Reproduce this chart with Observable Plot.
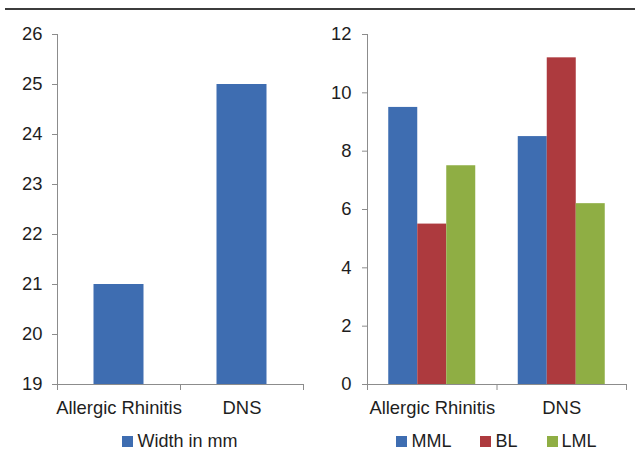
<!DOCTYPE html>
<html>
<head>
<meta charset="utf-8">
<script src="https://cdn.jsdelivr.net/npm/d3@7"></script>
<script src="https://cdn.jsdelivr.net/npm/@observablehq/plot@0.6"></script>
<style>
  html, body { margin: 0; padding: 0; background: #fff; }
  #wrap { position: relative; width: 635px; height: 452px; overflow: hidden;
          font-family: "Liberation Sans", Arial, sans-serif; color: #1e1e1e; }
  #rule { position: absolute; left: 5px; top: 8px; width: 630px; border-top: 2px solid #3c3c3c; }
  .panel { position: absolute; top: 0; }
  .legend { position: absolute; top: 430px; height: 22px; display: flex; justify-content: center;
            align-items: center; font-size: 18px; line-height: 22px; gap: 29px; }
  .item { display: flex; align-items: center; gap: 4px; }
  .sw { width: 11px; height: 11px; display: inline-block; }
</style>
</head>
<body>
<div id="wrap">
  <div id="rule"></div>
  <div id="left" class="panel" style="left:0px"></div>
  <div id="right" class="panel" style="left:315px"></div>
  <div id="legL" class="legend" style="left:57px; width:246px"></div>
  <div id="legR" class="legend" style="left:367px; width:259px"></div>
</div>
<script>
// ---- data ----
const categories = ["Allergic Rhinitis", "DNS"];
const widthMM = [21, 25];
const seriesNames = ["MML", "BL", "LML"];
const mml = [9.5, 8.5];
const bl = [5.5, 11.2];
const lml = [7.5, 6.2];
const leftTicks = [19, 20, 21, 22, 23, 24, 25, 26];
const rightTicks = [0, 2, 4, 6, 8, 10, 12];
const leftLegend = "Width in mm";

// ---- styles ----
const colors = ["#3e6db1", "#ad3a3e", "#8fae44"];
const axisColor = "#8c8c8c";
const textColor = "#1e1e1e";
const font = { fontSize: "18.4px", fontFamily: "'Liberation Sans', Arial, sans-serif", color: textColor, overflow: "visible", background: "transparent" };
const LEFT_BAR = 50 / 123;   // bar width as fraction of category slot
const RIGHT_GROUP = 87 / 129.5; // group width as fraction of category slot

const leftData = categories.map((c, i) => ({ i, category: c, value: widthMM[i] }));
const seriesValues = [mml, bl, lml];
const rightData = [];
categories.forEach((c, i) => {
  seriesNames.forEach((s, k) => rightData.push({ i, k, category: c, series: s, value: seriesValues[k][i] }));
});

const catTicks = categories.map((c, i) => i + 0.5);
const boundTicks = d3.range(categories.length + 1);

function xAxes() {
  return [
    Plot.axisX({ ticks: boundTicks, tickSize: 6, tickFormat: () => "", stroke: axisColor }),
    Plot.axisX({ ticks: catTicks, tickSize: 0, tickPadding: 16, tickFormat: d => categories[Math.floor(d)], fill: textColor })
  ];
}

const left = Plot.plot({
  width: 315, height: 420,
  marginLeft: 57, marginRight: 12, marginTop: 34, marginBottom: 36,
  style: font,
  x: { domain: [0, categories.length], type: "linear" },
  y: { domain: [leftTicks[0], leftTicks[leftTicks.length - 1]] },
  marks: [
    Plot.rectY(leftData, {
      x1: d => d.i + (1 - LEFT_BAR) / 2,
      x2: d => d.i + (1 + LEFT_BAR) / 2,
      y1: leftTicks[0], y2: "value", fill: colors[0]
    }),
    Plot.ruleX([0], { stroke: axisColor }),
    Plot.ruleY([leftTicks[0]], { stroke: axisColor }),
    Plot.axisY({ ticks: leftTicks, tickSize: 5, tickPadding: 10, tickFormat: "d", label: null, stroke: axisColor, fill: textColor }),
    ...xAxes()
  ]
});
document.getElementById("left").appendChild(left);

const right = Plot.plot({
  width: 320, height: 420,
  marginLeft: 52, marginRight: 9, marginTop: 34, marginBottom: 36,
  style: font,
  x: { domain: [0, categories.length], type: "linear" },
  y: { domain: [rightTicks[0], rightTicks[rightTicks.length - 1]] },
  marks: [
    Plot.rectY(rightData, {
      x1: d => d.i + (1 - RIGHT_GROUP) / 2 + d.k * RIGHT_GROUP / seriesNames.length,
      x2: d => d.i + (1 - RIGHT_GROUP) / 2 + (d.k + 1) * RIGHT_GROUP / seriesNames.length,
      y1: rightTicks[0], y2: "value", fill: d => colors[d.k]
    }),
    Plot.ruleX([0], { stroke: axisColor }),
    Plot.ruleY([rightTicks[0]], { stroke: axisColor }),
    Plot.axisY({ ticks: rightTicks, tickSize: 5, tickPadding: 11, tickFormat: "d", label: null, stroke: axisColor, fill: textColor }),
    ...xAxes()
  ]
});
document.getElementById("right").appendChild(right);

// ---- legends ----
function legend(el, items) {
  items.forEach(([label, color]) => {
    const it = document.createElement("div");
    it.className = "item";
    const sw = document.createElement("span");
    sw.className = "sw";
    sw.style.background = color;
    const tx = document.createElement("span");
    tx.textContent = label;
    it.appendChild(sw); it.appendChild(tx);
    el.appendChild(it);
  });
}
legend(document.getElementById("legL"), [[leftLegend, colors[0]]]);
legend(document.getElementById("legR"), seriesNames.map((s, k) => [s, colors[k]]));
</script>
</body>
</html>
